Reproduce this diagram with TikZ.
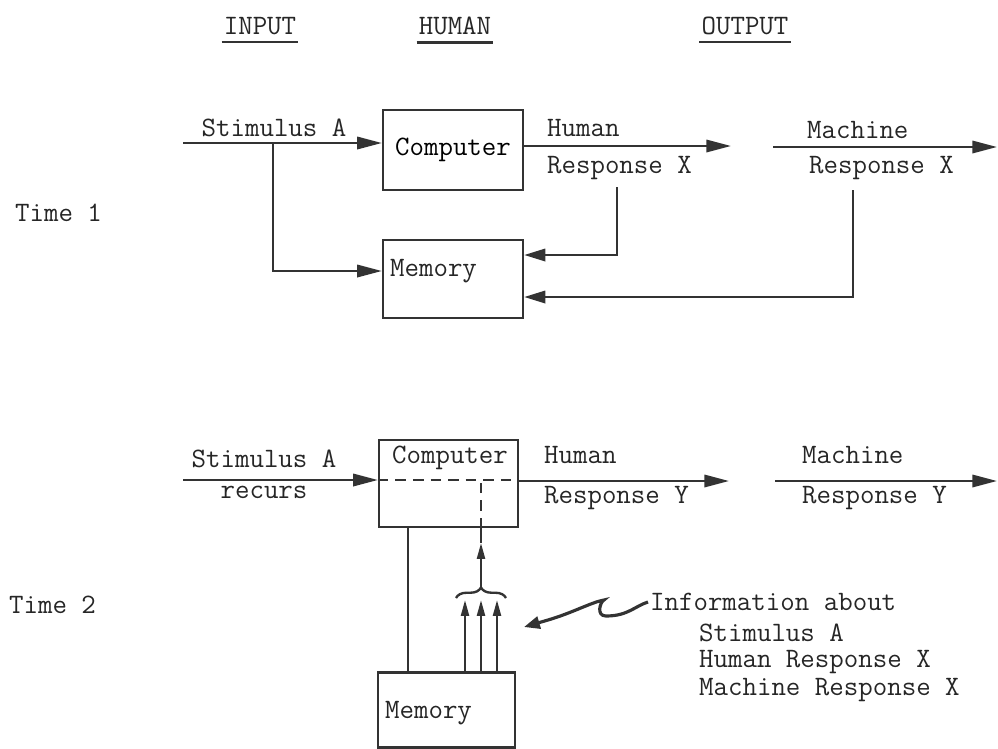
\documentclass[tikz,border=0pt]{standalone}
\usepackage{fontspec}
\usepackage{tikz}
\usetikzlibrary{calc, arrows.meta, positioning, decorations.pathreplacing}

\tikzset{
    ink/.style={draw=black!80, line width=1.35pt},
    box/.style={ink, minimum width=2.8cm, minimum height=1.6cm, inner sep=0pt},
    txt/.style={font=\ttfamily\fontsize{16}{18}\selectfont, text=black!85, inner sep=1pt},
    head/.style={txt, inner ysep=4pt},
    flow/.style={ink, -{Triangle[length=14pt, width=7pt]}},
    feed/.style={ink, -{Triangle[length=12pt, width=7pt]}},
    small/.style={ink, -{Triangle[length=9pt, width=4.5pt]}},
    squig/.style={draw=black!80, line width=1.8pt, -{Triangle[length=9pt, width=7pt]}},
}

\begin{document}
\begin{tikzpicture}[x=0.02cm, y=-0.02cm]

    \useasboundingbox (0,0) rectangle (998,748);

    % =================================================================
    % 1. COLUMN HEADINGS AND TIME LABELS
    % =================================================================
    \node[head] (hIn)  at (260,26) {INPUT};
    \node[head] (hHum) at (455,26) {HUMAN};
    \node[head] (hOut) at (745,26) {OUTPUT};
    \draw[ink] (hIn.south west)  -- (hIn.south east);
    \draw[ink] (hHum.south west) -- (hHum.south east);
    \draw[ink] (hOut.south west) -- (hOut.south east);

    \node[txt, anchor=west] (time1) at (13,213) {Time 1};
    \node[txt, anchor=west] (time2) at (7,605)  {Time 2};

    % =================================================================
    % 2. TIME 1
    % =================================================================
    \node[box] (comp1) at (453,150) {\ttfamily\fontsize{16}{18}\selectfont Computer};
    \node[box, minimum height=1.56cm] (mem1) at (453,279) {};
    \node[txt, anchor=west] (mem1txt) at (388,271) {Memory};

    % free ends of the lines
    \coordinate (in1)   at (183,143);
    \coordinate (br1)   at (273,143);
    \coordinate (br1b)  at (273,271);
    \coordinate (hum1)  at (731,146);
    \coordinate (hfb1)  at (617,187);
    \coordinate (hfb1b) at (617,255);
    \coordinate (mac1a) at (773,147);
    \coordinate (mac1b) at (997,147);
    \coordinate (mfb1)  at (853,190);
    \coordinate (mfb1b) at (853,297);

    % stimulus into computer, branch into memory
    \draw[flow] (in1) -- (in1 -| comp1.west);
    \draw[flow] (br1) -- (br1b) -- (br1b -| mem1.west);

    % responses and their feedback into memory
    \draw[flow] (comp1.east |- hum1) -- (hum1);
    \draw[flow] (mac1a) -- (mac1b);
    \draw[feed] (hfb1) -- (hfb1b) -- (hfb1b -| mem1.east);
    \draw[feed] (mfb1) -- (mfb1b) -- (mfb1b -| mem1.east);

    \node[txt] (stim1) at (274,128) {Stimulus A};
    \node[txt, anchor=west] (hum1a) at (545,128) {Human};
    \node[txt, anchor=west] (hum1b) at (545,168) {Response X};
    \node[txt, anchor=west] (mac1t) at (805,130) {Machine};
    \node[txt, anchor=west] (mac1r) at (807,168) {Response X};

    % =================================================================
    % 3. TIME 2
    % =================================================================
    \node[box, minimum width=2.78cm, minimum height=1.74cm] (comp2) at (448.5,483.5) {};
    \node[txt] (comp2txt) at (450,458) {Computer};
    \node[box, minimum width=2.74cm, minimum height=1.5cm] (mem2) at (446.5,710) {};
    \node[txt, anchor=west] (mem2txt) at (383,713) {Memory};

    \coordinate (in2)  at (183,480);
    \coordinate (dash2) at (481,480);
    \coordinate (hum2) at (729,481);
    \coordinate (mac2a) at (775,481);
    \coordinate (mac2b) at (997,481);
    \coordinate (lnk)  at (408,600);
    \coordinate (brL)  at (456,598);
    \coordinate (brR)  at (506,598);
    \coordinate (brT)  at (481,587);
    \coordinate (upA)  at (481,543);

    \draw[flow] (in2) -- (in2 -| comp2.west);
    \draw[ink, dashed, dash pattern=on 6pt off 4pt] (comp2.west |- dash2) -- (comp2.east |- dash2);
    \draw[flow] (comp2.east |- hum2) -- (hum2);
    \draw[flow] (mac2a) -- (mac2b);

    % link between computer and memory
    \draw[ink] (comp2.south -| lnk) -- (mem2.north -| lnk);

    % three pieces of information gathered by a brace
    \foreach \x in {465,481,497} {
        \coordinate (tip) at (\x,600);
        \draw[small] (mem2.north -| tip) -- (tip);
    }
    \draw[ink, decorate, decoration={brace, amplitude=6pt}] (brL) -- (brR);
    \draw[small] (brT) -- (upA);
    \draw[ink] (upA) -- (comp2.south -| upA);
    \draw[ink, dashed, dash pattern=on 6pt off 4pt] (comp2.south -| dash2) -- (dash2);

    \node[txt] (stim2) at (264,459) {Stimulus A};
    \node[txt] (recur) at (264,492) {recurs};
    \node[txt, anchor=west] (hum2a) at (542,455) {Human};
    \node[txt, anchor=west] (hum2b) at (542,498) {Response Y};
    \node[txt, anchor=west] (mac2t) at (800,455) {Machine};
    \node[txt, anchor=west] (mac2r) at (800,498) {Response Y};

    % =================================================================
    % 4. NOTE ON THE INFORMATION
    % =================================================================
    \node[txt, anchor=west] (info)  at (648,602) {Information about};
    \node[txt, anchor=west] (infoA) at (697,633) {Stimulus A};
    \node[txt, anchor=west] (infoB) at (697,662) {Human Response X};
    \node[txt, anchor=west] (infoC) at (697,690) {Machine Response X};

    \draw[squig] (info.west) .. controls (635,606) and (628,616) .. (606,616)
        .. controls (596,616) and (600,602) .. (604,600)
        .. controls (592,602) and (572,613) .. (548,620) -- (524,627);

\end{tikzpicture}
\end{document}
